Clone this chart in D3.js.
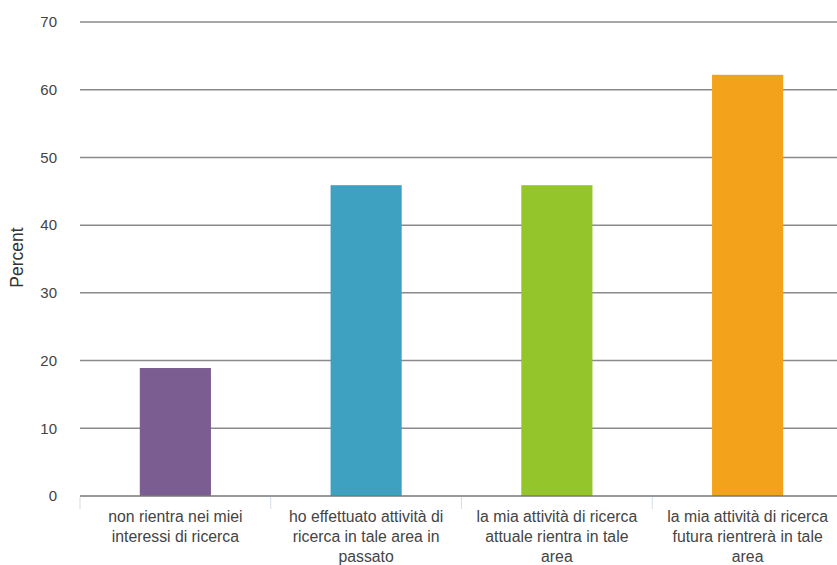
<!DOCTYPE html>
<html><head><meta charset="utf-8">
<script src="https://cdn.jsdelivr.net/npm/d3@7"></script>
<style>body{margin:0;background:#fff}svg{display:block}</style>
</head><body>
<svg id="c" width="837" height="565"></svg>
<script>
const categories = [
  "non rientra nei miei\ninteressi di ricerca",
  "ho effettuato attività di\nricerca in tale area in\npassato",
  "la mia attività di ricerca\nattuale rientra in tale\narea",
  "la mia attività di ricerca\nfutura rientrerà in tale\narea"
];
const values = [18.9, 45.9, 45.9, 62.2];
const colors = ["#7b5d91", "#3fa1c2", "#94c62b", "#f3a31b"];
const yTicks = [0, 10, 20, 30, 40, 50, 60, 70];
const yLabel = "Percent";

(function () {
const svg = d3.select("#c");
const mLeft = 80, mRight = 843, mTop = 22, mBottom = 496;
const font = "Liberation Sans, Arial, Helvetica, sans-serif";
const x = d3.scaleBand().domain(categories).range([mLeft, mRight]).paddingInner(0.627).paddingOuter(0.3135);
const y = d3.scaleLinear().domain([0, 70]).range([mBottom, mTop]);

// gridlines
svg.append("g").selectAll("line").data(yTicks.filter(d => d > 0)).join("line")
  .attr("x1", mLeft).attr("x2", 837)
  .attr("y1", d => y(d)).attr("y2", d => y(d))
  .attr("stroke", "#8a8a8a").attr("stroke-width", 1.5);

// y tick labels
svg.append("g").selectAll("text").data(yTicks).join("text")
  .attr("x", 57).attr("y", d => y(d)).attr("dy", "0.35em")
  .attr("text-anchor", "end")
  .attr("font-family", font)
  .attr("font-size", 15).attr("fill", "#444")
  .text(d => d);

// bars
svg.append("g").selectAll("rect").data(values).join("rect")
  .attr("x", (d, i) => x(categories[i]))
  .attr("width", x.bandwidth())
  .attr("y", d => y(d))
  .attr("height", d => y(0) - y(d))
  .attr("fill", (d, i) => colors[i]);

// x axis line
svg.append("line").attr("x1", mLeft).attr("x2", 837)
  .attr("y1", y(0)).attr("y2", y(0))
  .attr("stroke", "#777").attr("stroke-width", 1.5);

// band separator ticks
const step = x.step();
svg.append("g").selectAll("line").data(d3.range(categories.length + 1)).join("line")
  .attr("x1", i => mLeft + i * step).attr("x2", i => mLeft + i * step)
  .attr("y1", y(0) + 1).attr("y2", y(0) + 13)
  .attr("stroke", "#d5dde8").attr("stroke-width", 1);

// category labels
const lab = svg.append("g").selectAll("text").data(categories).join("text")
  .attr("text-anchor", "middle")
  .attr("font-family", font)
  .attr("font-size", 15.8).attr("fill", "#444");
lab.each(function(d) {
  const t = d3.select(this);
  const cx = x(d) + x.bandwidth() / 2;
  d.split("\n").forEach((line, k) => {
    t.append("tspan").attr("x", cx).attr("y", 522 + k * 20).text(line);
  });
});

// y label
svg.append("text")
  .attr("transform", `translate(23,257.5) rotate(-90)`)
  .attr("text-anchor", "middle")
  .attr("font-family", font)
  .attr("font-size", 17.5).attr("fill", "#333")
  .text(yLabel);
})();
</script>
</body></html>
